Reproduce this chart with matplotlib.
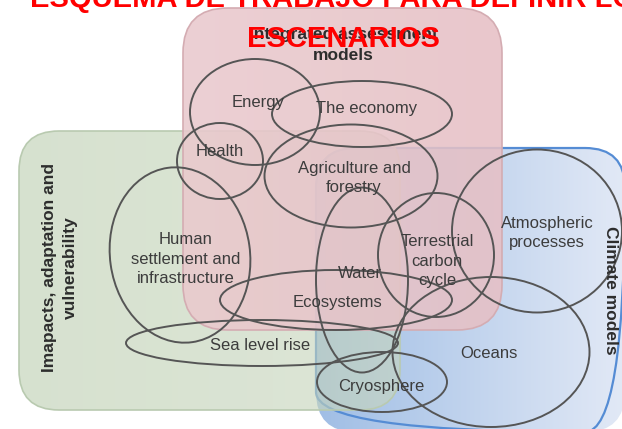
import numpy as np
import matplotlib
matplotlib.use('Agg')
from matplotlib import pyplot as plt
from matplotlib.patches import Ellipse, FancyBboxPatch
from matplotlib.colors import LinearSegmentedColormap

plt.rcParams['font.family'] = ['Liberation Sans', 'DejaVu Sans']

# Texts of the diagram
titleLines = ["ESQUEMA DE TRABAJO PARA DEFINIR LOS", "ESCENARIOS"]
boxNames = ["Integrated assessment\nmodels",
            "Imapacts, adaptation and\nvulnerability",
            "Climate models"]
topics = ["Energy", "The economy", "Health", "Agriculture and\nforestry",
          "Human\nsettlement and\ninfrastructure", "Water", "Ecosystems",
          "Terrestrial\ncarbon\ncycle", "Atmospheric\nprocesses",
          "Sea level rise", "Oceans", "Cryosphere"]

# ellipse per topic: centre x, centre y, width, height, angle (pixels)
shapes = [(255, 112, 130, 106, 0), (362, 114, 180, 66, 0), (220, 161, 86, 76, 0),
          (351, 176, 173, 103, 0), (180, 255, 140, 176, -8), (362, 280, 92, 185, 0),
          (336, 300, 232, 60, 0), (436, 255, 116, 124, 0), (537, 231, 170, 163, 0),
          (262, 343, 272, 46, 0), (491, 352, 197, 150, 0), (382, 382, 130, 60, 0)]
labelPos = [(258, 103), (367, 108), (220, 152), (354, 178), (186, 259), (360, 273),
            (337, 302), (437, 261), (547, 233), (260, 346), (489, 353), (381, 386)]

W, H = 622, 429
fig = plt.figure(figsize=(W / 100, H / 100), dpi=100)
ax = fig.add_axes([0, 0, 1, 1])


def gradientBox(x0, y0, w, h, c0, c1, alpha, z, edge, lw=1.2, r=40):
    """ Rounded box filled with a left to right gradient """
    patch = FancyBboxPatch((x0, y0), w, h, boxstyle="round,pad=0,rounding_size=%d" % r,
                           fc='none', ec=edge, lw=lw, zorder=z + 0.1)
    ax.add_patch(patch)
    cmap = LinearSegmentedColormap.from_list('g', [c0, c1])
    grad = np.linspace(0, 1, 256).reshape(1, -1)
    im = ax.imshow(grad, extent=(x0, x0 + w, y0 + h, y0), cmap=cmap, alpha=alpha,
                   zorder=z, aspect='auto', interpolation='bilinear')
    im.set_clip_path(patch)


def rgb(r, g, b):
    return (r / 255, g / 255, b / 255)


# Boxes: climate (blue), impacts (green), integrated assessment (pink)
gradientBox(316, 148, 309, 284, rgb(160, 190, 229), rgb(226, 233, 246), 1.0, 1,
            rgb(85, 140, 212), lw=1.6)
gradientBox(19, 131, 381, 279, rgb(190, 208, 178), rgb(200, 214, 190), 0.62, 2,
            rgb(185, 202, 176))
gradientBox(183, 8, 319, 322, rgb(234, 202, 206), rgb(230, 192, 197), 0.88, 3,
            rgb(212, 172, 178), r=45)

# Topic ellipses and labels
for i in range(0, len(topics)):
    cx, cy, w, h, ang = shapes[i]
    ax.add_patch(Ellipse((cx, cy), w, h, angle=ang, fc='none',
                         ec=rgb(85, 85, 85), lw=1.4, zorder=5))
    ax.text(labelPos[i][0], labelPos[i][1], topics[i], ha='center', va='center',
            fontsize=12, color=rgb(60, 60, 60), linespacing=1.4, zorder=6)

# Box labels
txtCol = rgb(45, 45, 45)
ax.text(343, 45, boxNames[0], ha='center', va='center', fontsize=12.5,
        fontweight='bold', color=txtCol, linespacing=1.45, zorder=6)
ax.text(60, 268, boxNames[1], ha='center', va='center', rotation=90, fontsize=12.5,
        fontweight='bold', color=txtCol, linespacing=1.5, zorder=6)
ax.text(611, 290, boxNames[2], ha='center', va='center', rotation=-90, fontsize=12.5,
        fontweight='bold', color=txtCol, zorder=6)

# Red title, first line runs off the top and right
ax.text(30, 7, titleLines[0], ha='left', va='baseline', fontsize=21,
        fontweight='bold', color='red', zorder=10)
ax.text(343, 47, titleLines[1], ha='center', va='baseline', fontsize=21,
        fontweight='bold', color='red', zorder=10)

ax.set_xlim(0, W)
ax.set_ylim(H, 0)
ax.axis('off')
fig.savefig('out.png', dpi=100)
